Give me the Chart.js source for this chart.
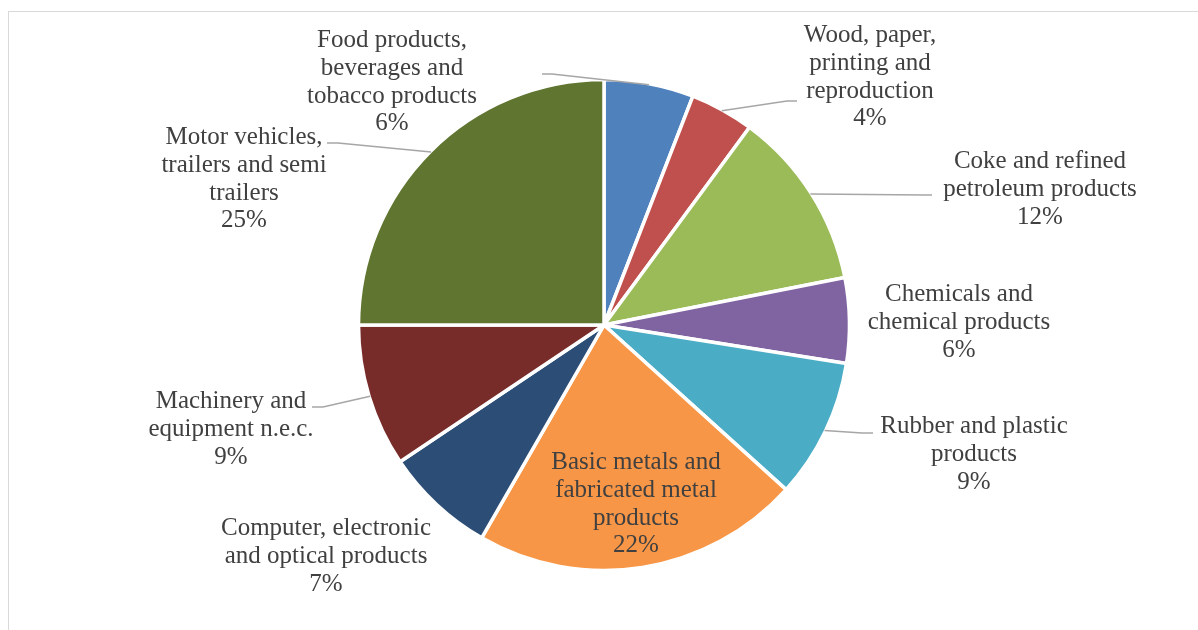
<!DOCTYPE html>
<html><head><meta charset="utf-8">
<script src="https://cdn.jsdelivr.net/npm/chart.js@4/dist/chart.umd.min.js"></script>
<style>html,body{margin:0;padding:0;background:#fff;}canvas{display:block;}</style>
</head><body>
<canvas id="c" width="1198" height="630"></canvas>
<script>
// ---- data ----
const categories = [
  ["Food products,", "beverages and", "tobacco products"],
  ["Wood, paper,", "printing and", "reproduction"],
  ["Coke and refined", "petroleum products"],
  ["Chemicals and", "chemical products"],
  ["Rubber and plastic", "products"],
  ["Basic metals and", "fabricated metal", "products"],
  ["Computer, electronic", "and optical products"],
  ["Machinery and", "equipment n.e.c."],
  ["Motor vehicles,", "trailers and semi", "trailers"]
];
const shares = [5.9, 4.2, 11.8, 5.6, 9.2, 21.6, 7.3, 9.4, 25.0];
const percentLabels = ["6%", "4%", "12%", "6%", "9%", "22%", "7%", "9%", "25%"];

// ---- styles / layout ----
const sliceColors = ["#4F81BD", "#C0504D", "#9BBB59", "#8064A2", "#4BACC6",
                     "#F79646", "#2C4D75", "#772C2A", "#5F7530"];
const labelLayout = [
  {x: 392, y: 47,  leader: {x1: 542, x2: 552, y: 74}},
  {x: 870, y: 42,  leader: {x1: 797, x2: 787, y: 101}},
  {x: 1040, y: 168, leader: {x1: 932, x2: 925, y: 195}},
  {x: 959, y: 301, leader: null},
  {x: 974, y: 433, leader: {x1: 873, x2: 862, y: 433}},
  {x: 636, y: 469, leader: null},
  {x: 326, y: 535, leader: null},
  {x: 231, y: 408, leader: {x1: 312, x2: 323, y: 407}},
  {x: 244, y: 144, leader: {x1: 327, x2: 338, y: 143}}
];
const LINE_H = 27.8;
const FONT = "25px 'Liberation Serif'";

const framePlugin = {
  id: 'frame',
  beforeDraw(chart) {
    const ctx = chart.ctx;
    ctx.save();
    ctx.fillStyle = '#fff';
    ctx.fillRect(0, 0, chart.width, chart.height);
    ctx.strokeStyle = '#D9D9D9';
    ctx.lineWidth = 1;
    ctx.strokeRect(8.5, 11.5, 1300, 700);
    ctx.restore();
  }
};

const labelPlugin = {
  id: 'pieLabels',
  afterDatasetsDraw(chart) {
    const ctx = chart.ctx;
    const meta = chart.getDatasetMeta(0);
    ctx.save();
    meta.data.forEach((arc, i) => {
      const p = arc.getProps(['x', 'y', 'startAngle', 'endAngle', 'outerRadius'], true);
      const mid = (p.startAngle + p.endAngle) / 2;
      const ax = p.x + Math.cos(mid) * (p.outerRadius - 1);
      const ay = p.y + Math.sin(mid) * (p.outerRadius - 1);
      const L = labelLayout[i];
      if (L.leader) {
        ctx.beginPath();
        ctx.strokeStyle = '#A6A6A6';
        ctx.lineWidth = 1.5;
        ctx.moveTo(L.leader.x1, L.leader.y);
        ctx.lineTo(L.leader.x2, L.leader.y);
        ctx.lineTo(ax, ay);
        ctx.stroke();
      }
      ctx.font = FONT;
      ctx.fillStyle = '#404040';
      ctx.textAlign = 'center';
      ctx.textBaseline = 'alphabetic';
      const lines = categories[i].concat([percentLabels[i]]);
      lines.forEach((t, j) => ctx.fillText(t, L.x, L.y + j * LINE_H));
    });
    ctx.restore();
  }
};

new Chart(document.getElementById('c'), {
  type: 'pie',
  data: {
    labels: categories.map(c => c.join(' ')),
    datasets: [{
      data: shares,
      backgroundColor: sliceColors,
      borderColor: '#FFFFFF',
      borderWidth: 3.5,
      radius: 245.5
    }]
  },
  options: {
    responsive: false,
    devicePixelRatio: 1,
    animation: false,
    events: [],
    layout: {padding: {left: 10, top: 20, right: 0, bottom: 0}},
    plugins: {legend: {display: false}, tooltip: {enabled: false}, title: {display: false}}
  },
  plugins: [framePlugin, labelPlugin]
});
</script>
</body></html>
